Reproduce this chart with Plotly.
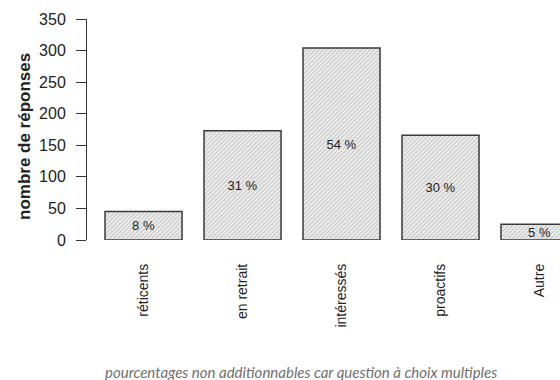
import plotly.graph_objects as go

categories = ["réticents", "en retrait", "intéressés", "proactifs", "Autre"]
counts = [45, 173, 304, 166, 25]
percent_labels = ["8 %", "31 %", "54 %", "30 %", "5 %"]
y_ticks = [0, 50, 100, 150, 200, 250, 300, 350]
y_title = "nombre de réponses"
footnote = "pourcentages non additionnables car question à choix multiples"

W, H = 560, 380
L, R, T, B = 87, 0, 19, 140
pw, ph = W - L - R, H - T - B

fig = go.Figure()
fig.add_trace(go.Bar(
    x=categories, y=counts, text=percent_labels,
    textposition="inside", insidetextanchor="middle", constraintext="none",
    textangle=0,
    textfont=dict(family="Liberation Sans, Arial", size=13, color="#222"),
    marker=dict(color="#f0f0f0",
                line=dict(color="#3a3a3a", width=1.5),
                pattern=dict(shape="/", fgcolor="#8f8f8f", bgcolor="#f0f0f0",
                             size=3, solidity=0.35, fillmode="overlay")),
    hoverinfo="skip",
))

fig.add_annotation(text=y_title, xref="paper", yref="paper",
                   x=(24 - L) / pw, y=(H - B - 136) / ph, textangle=-90,
                   xanchor="center", yanchor="middle", showarrow=False,
                   font=dict(family="Liberation Sans, Arial", size=17, weight="bold", color="#222"))

fig.add_annotation(text=footnote, xref="paper", yref="paper",
                   x=(301 - L) / pw, y=(H - B - 372) / ph,
                   xanchor="center", yanchor="middle", showarrow=False,
                   font=dict(family="Lato, Open Sans", size=15, color="#6f6f6f", style="italic"))

fig.update_layout(
    width=W, height=H, margin=dict(l=L, r=R, t=T, b=B, autoexpand=False),
    paper_bgcolor="white", plot_bgcolor="white", showlegend=False, bargap=0.222,
    font=dict(family="Liberation Sans, Arial", color="#222"),
    xaxis=dict(range=[-0.571, 4.207], showline=False, showgrid=False, zeroline=False,
               ticks="", tickangle=-90, ticklabelstandoff=20,
               tickfont=dict(size=14, color="#222")),
    yaxis=dict(range=[0, 350], tickvals=y_ticks, showline=True, linecolor="#333", linewidth=1,
               ticks="outside", ticklen=10, tickcolor="#333", showgrid=False, zeroline=False,
               ticklabelstandoff=7,
               tickfont=dict(size=16, color="#222")),
)

fig.write_html("out.html", config={"displayModeBar": False},
               post_script="document.body.style.margin='0';document.body.style.overflow='hidden';")
